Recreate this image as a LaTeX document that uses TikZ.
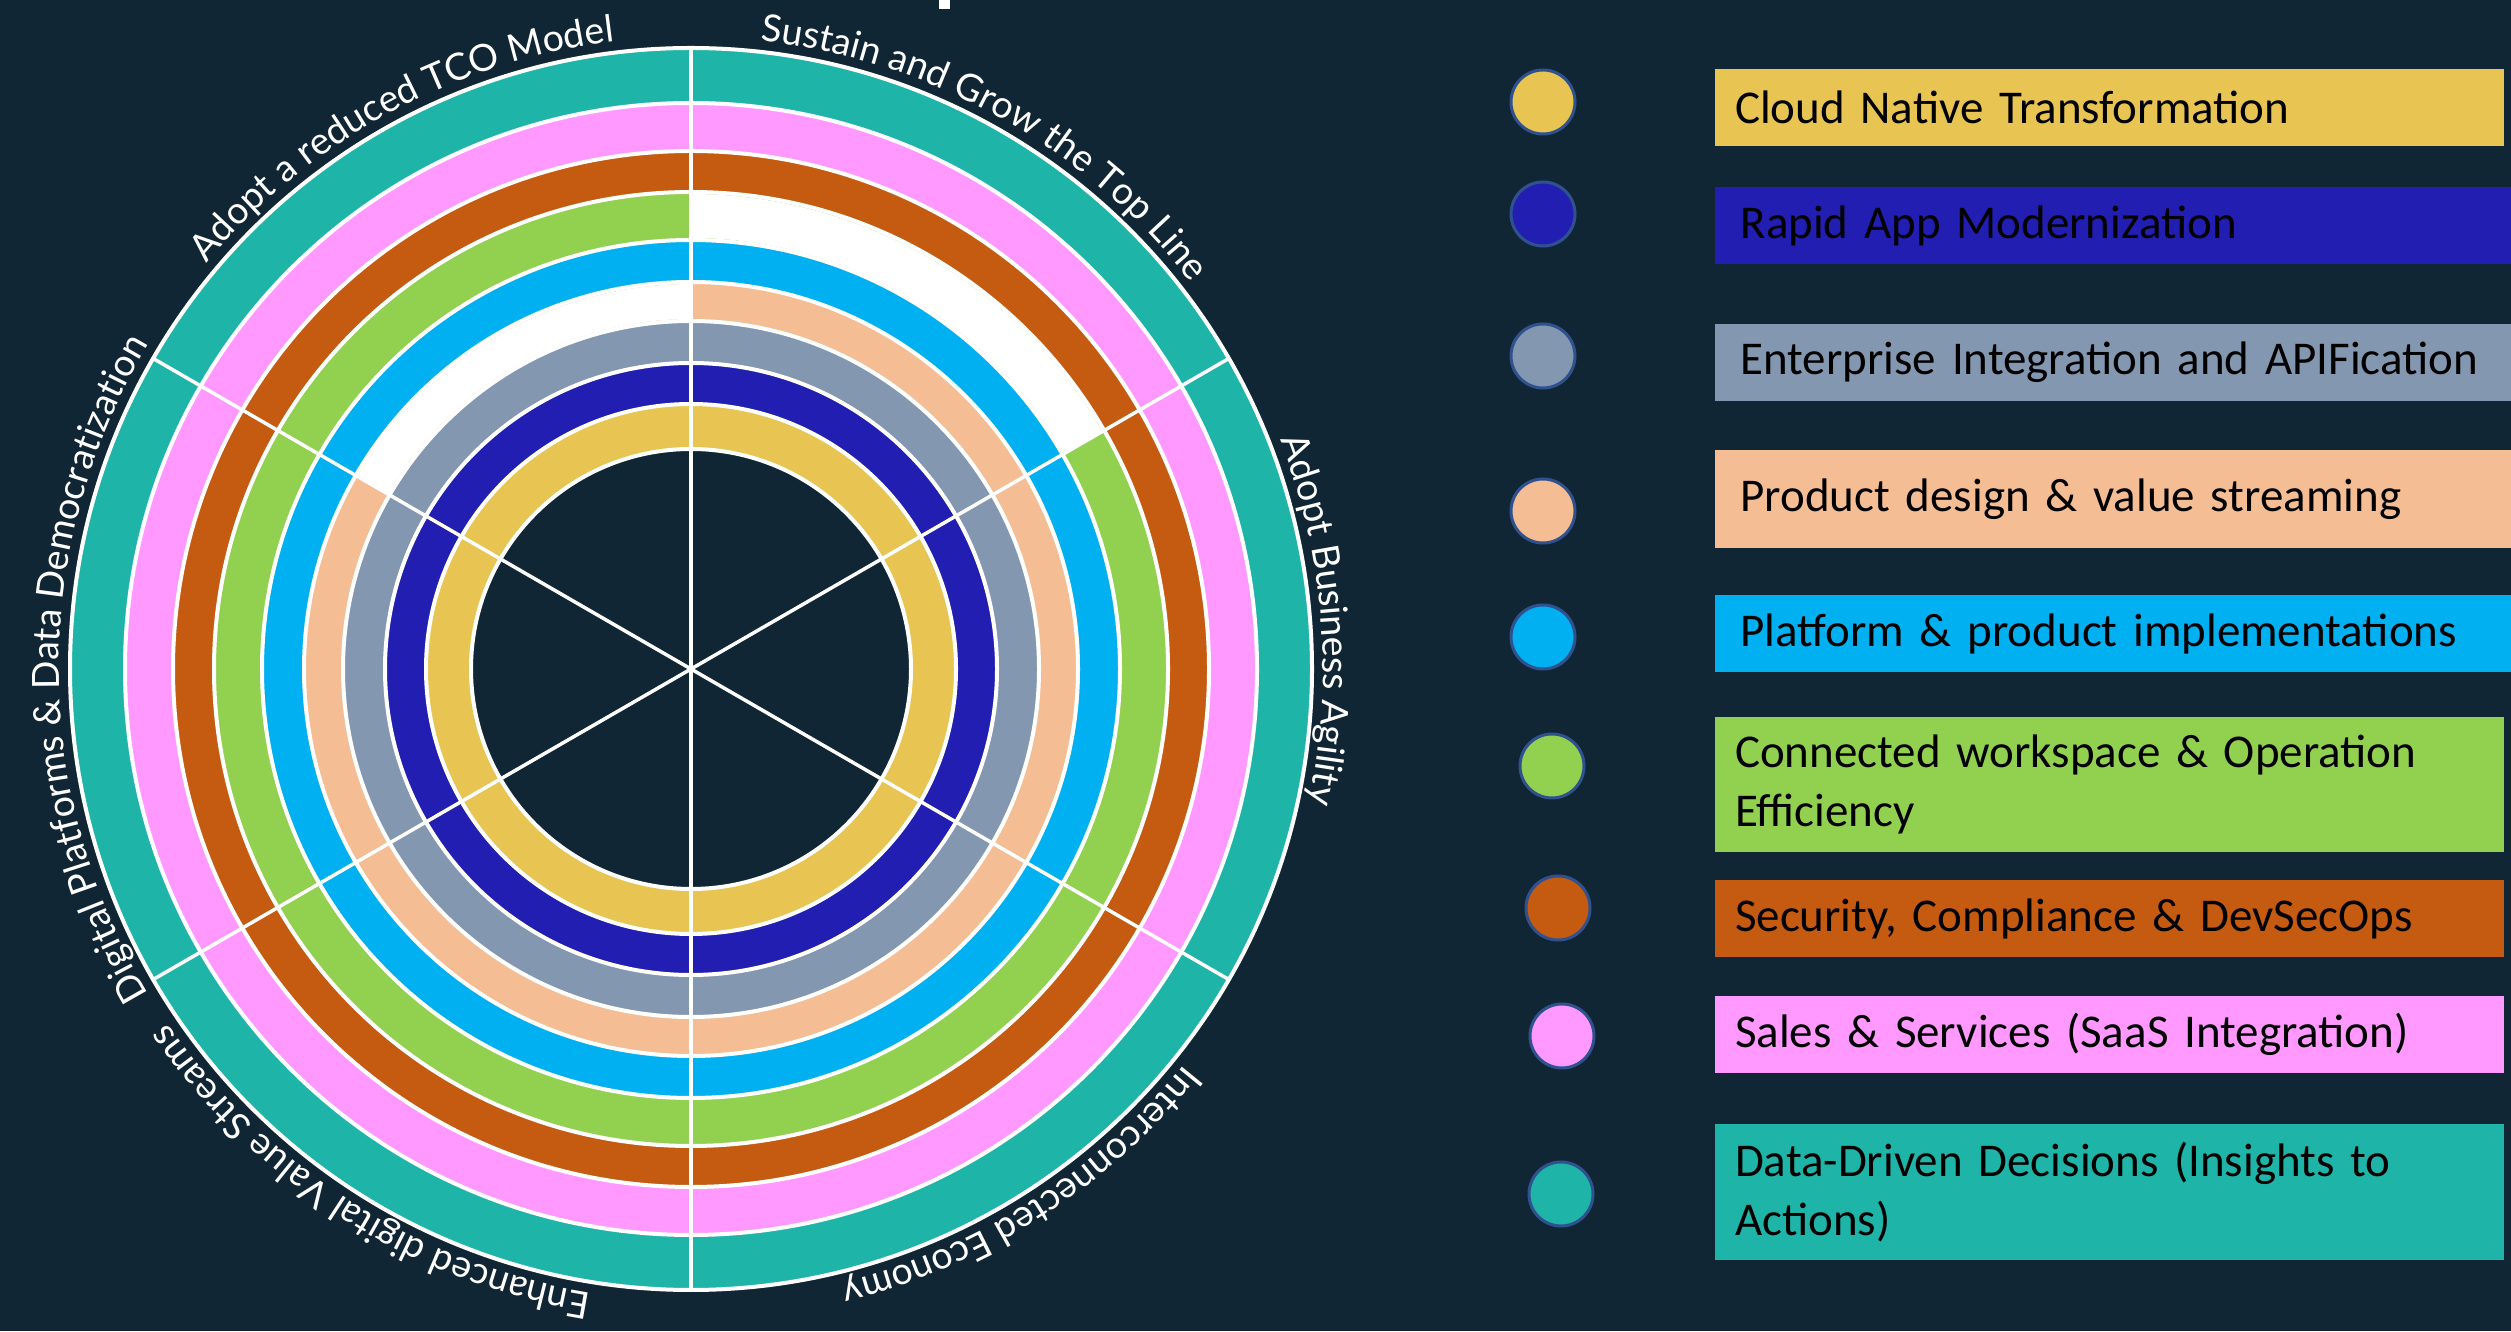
\documentclass[tikz,border=0pt]{standalone}
\usepackage{fontspec}
\setmainfont{Carlito}
\newfontfamily\arcfont{Lato}
\usepackage{xcolor}
\usepackage{tikz}
\usetikzlibrary{calc, decorations.text}
\definecolor{navy}{RGB}{17,38,52}
\definecolor{cgold}{HTML}{E8C452}
\definecolor{cblue}{HTML}{211EB1}
\definecolor{cgray}{HTML}{8497B0}
\definecolor{cpeach}{HTML}{F4BD94}
\definecolor{ccyan}{HTML}{00B0F0}
\definecolor{cgreen}{HTML}{92D050}
\definecolor{corange}{HTML}{C55A11}
\definecolor{cpink}{HTML}{FF99FF}
\definecolor{cteal}{HTML}{1FB4A8}
\definecolor{dotline}{HTML}{2F528F}
\newcommand\arclabelfont{\arcfont\fontsize{37.5}{45}\selectfont}
\tikzset{
    ring/.style = {
        draw       = white,
        line width = 4pt,
    },
    spoke/.style = {
        draw       = white,
        line width = 3.5pt,
    },
    arclabel/.style = {
        decorate,
        decoration = {text along path, text align = center, text color = white, text = {|\arclabelfont|#1}},
    },
    legbox/.style = {
        anchor         = north west,
        minimum width  = 789pt,
        minimum height = 77pt,
        text width     = 749pt,
        inner xsep     = 20pt,
        align          = left,
        font           = \fontsize{47}{58.6}\selectfont,
    },
    legdot/.style = {
        circle,
        draw           = dotline,
        line width     = 3pt,
        minimum size   = 64pt,
    },
}

\begin{document}
\begin{tikzpicture}[x = 1pt, y = 1pt, every node/.style = {outer sep = 0pt, inner sep = 0pt}]
    \fill [navy] (0, 0) rectangle (2511, 1331);
    \useasboundingbox (0, 0) rectangle (2511, 1331);
    \fill [white] (939, 1322) rectangle (950, 1331);

    \coordinate (C) at (691, 662);

    % rings, outside in
    \draw [ring, fill = cteal]   (C) circle (621pt);
    \draw [ring, fill = cpink]   (C) circle (566pt);
    \draw [ring, fill = corange] (C) circle (518pt);
    \draw [ring, fill = cgreen]  (C) circle (477pt);
    \draw [ring, fill = ccyan]   (C) circle (429pt);
    \draw [ring, fill = cpeach]  (C) circle (387pt);
    \draw [ring, fill = cgray]   (C) circle (348pt);
    \draw [ring, fill = cblue]   (C) circle (306pt);
    \draw [ring, fill = cgold]   (C) circle (265pt);
    \draw [ring, fill = navy]    (C) circle (220pt);

    % empty parts
    \fill [white] ($(C) + (30:431)$) arc [start angle = 30, end angle = 90, radius = 431pt]
        -- ($(C) + (90:475)$) arc [start angle = 90, end angle = 30, radius = 475pt] -- cycle;
    \fill [white] ($(C) + (90:350)$) arc [start angle = 90, end angle = 150, radius = 350pt]
        -- ($(C) + (150:385)$) arc [start angle = 150, end angle = 90, radius = 385pt] -- cycle;

    \draw [spoke] ($(C) + (90:621)$) -- ($(C) + (270:621)$);
    \draw [spoke] ($(C) + (30:621)$) -- ($(C) + (210:621)$);
    \draw [spoke] ($(C) + (150:621)$) -- ($(C) + (330:621)$);

    \path [arclabel = {Sustain and Grow the Top Line}] ($(C) + (110.7:632)$) arc [start angle = 110.7, end angle = 10.7, radius = 632pt];
    \path [arclabel = {Adopt a reduced TCO Model}] ($(C) + (168.5:632)$) arc [start angle = 168.5, end angle = 68.5, radius = 632pt];
    \path [arclabel = {Digital Platforms {\&} Data Democratization}] ($(C) + (230:632)$) arc [start angle = 230, end angle = 130, radius = 632pt];
    \path [arclabel = {Enhanced digital Value Streams}] ($(C) + (287.5:632)$) arc [start angle = 287.5, end angle = 187.5, radius = 632pt];
    \path [arclabel = {Interconnected Economy}] ($(C) + (352.5:632)$) arc [start angle = 352.5, end angle = 252.5, radius = 632pt];
    \path [arclabel = {Adopt Business Agility}] ($(C) + (54.5:632)$) arc [start angle = 54.5, end angle = -45.5, radius = 632pt];

    % legend
    \node (cloudDot)      [legdot, fill = cgold]   at (1543, 1229) {};
    \node (rapidDot)      [legdot, fill = cblue]   at (1543, 1117) {};
    \node (enterpriseDot) [legdot, fill = cgray]   at (1543, 975) {};
    \node (productDot)    [legdot, fill = cpeach]  at (1543, 820) {};
    \node (platformDot)   [legdot, fill = ccyan]   at (1543, 694) {};
    \node (connectedDot)  [legdot, fill = cgreen]  at (1552, 565) {};
    \node (securityDot)   [legdot, fill = corange] at (1558, 423) {};
    \node (salesDot)      [legdot, fill = cpink]   at (1562, 295) {};
    \node (dataDot)       [legdot, fill = cteal]   at (1561, 137) {};

    \node (cloud)      [legbox, fill = cgold]  at (1715, 1262) {Cloud Native Transformation};
    \node (rapid)      [legbox, fill = cblue, minimum width = 800pt]  at (1715, 1144) {Rapid App Modernization};
    \node (enterprise) [legbox, fill = cgray, minimum width = 800pt]  at (1715, 1007) {Enterprise Integration and APIFication};
    \node (product)    [legbox, fill = cpeach, minimum width = 800pt, minimum height = 98pt] at (1715, 881) {Product design \& value streaming};
    \node (platform)   [legbox, fill = ccyan, minimum width = 800pt]  at (1715, 736) {Platform \& product implementations};
    \node (connected)  [legbox, fill = cgreen, minimum height = 135pt] at (1715, 614) {Connected workspace \& Operation\\Efficiency};
    \node (security)   [legbox, fill = corange] at (1715, 451) {Security, Compliance \& DevSecOps};
    \node (sales)      [legbox, fill = cpink]   at (1715, 335) {Sales \& Services (SaaS Integration)};
    \node (data)       [legbox, fill = cteal, minimum height = 136pt] at (1715, 207) {Data-Driven Decisions (Insights to\\Actions)};
\end{tikzpicture}
\end{document}
